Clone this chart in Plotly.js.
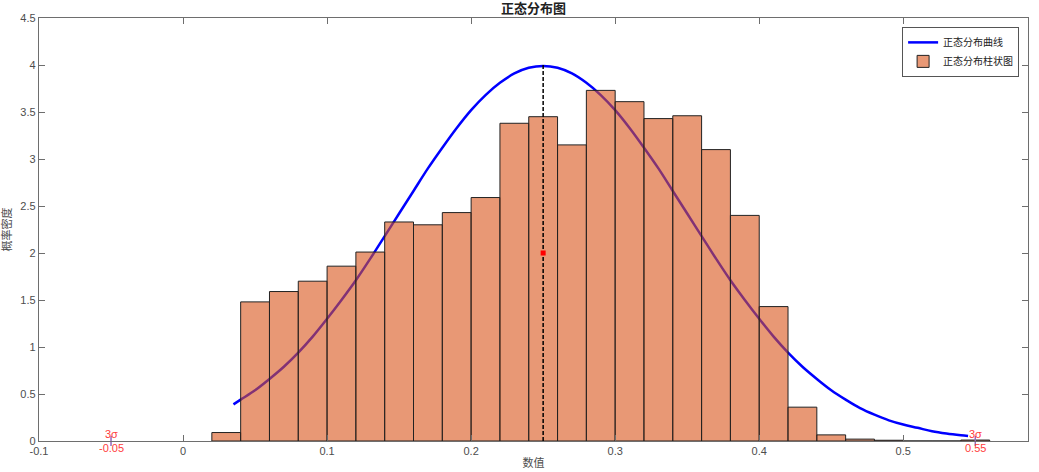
<!DOCTYPE html>
<html>
<head>
<meta charset="utf-8">
<script src="https://cdn.plot.ly/plotly-3.0.1.min.js"></script>
<style>
  html, body { margin: 0; padding: 0; background: #fff; }
  #chart { width: 1039px; height: 472px; }
</style>
</head>
<body>
<div id="chart"></div>
<script>
/* 正态分布图 — histogram (density) with fitted normal curve */

// histogram: bin edges and density per bin
var BIN_EDGES = [0.02, 0.04, 0.06, 0.08, 0.10, 0.12, 0.14, 0.16, 0.18, 0.20, 0.22, 0.24, 0.26, 0.28,
                 0.30, 0.32, 0.34, 0.36, 0.38, 0.40, 0.42, 0.44, 0.46, 0.48, 0.50, 0.52, 0.54, 0.56];
var DENSITY = [0.09, 1.48, 1.59, 1.70, 1.86, 2.01, 2.33, 2.30, 2.43, 2.59, 3.38, 3.45, 3.15,
               3.73, 3.61, 3.43, 3.46, 3.10, 2.40, 1.43, 0.36, 0.065, 0.02, 0.008, 0, 0, 0.01];

// normal curve
var CURVE_X = [0.035, 0.04, 0.05, 0.06, 0.07, 0.08, 0.09, 0.10, 0.11, 0.12, 0.13, 0.14, 0.15,
               0.16, 0.17, 0.18, 0.19, 0.20, 0.21, 0.22, 0.23, 0.24, 0.25, 0.26, 0.27, 0.28,
               0.29, 0.30, 0.31, 0.32, 0.33, 0.34, 0.35, 0.36, 0.37, 0.38, 0.39, 0.40, 0.41,
               0.42, 0.43, 0.44, 0.45, 0.46, 0.47, 0.48, 0.49, 0.50, 0.51, 0.52, 0.53, 0.54, 0.545];
var CURVE_Y = [0.39, 0.44, 0.54, 0.66, 0.79, 0.94, 1.11, 1.30, 1.50, 1.71, 1.94, 2.18, 2.42,
               2.66, 2.90, 3.12, 3.33, 3.52, 3.68, 3.81, 3.91, 3.97, 3.99, 3.97, 3.91, 3.81,
               3.68, 3.52, 3.33, 3.12, 2.90, 2.66, 2.42, 2.18, 1.94, 1.71, 1.50, 1.30, 1.11,
               0.94, 0.79, 0.66, 0.54, 0.44, 0.35, 0.28, 0.22, 0.175, 0.14, 0.104, 0.079, 0.060, 0.052];

// mean line, mid marker and ±3σ labels
var MEAN = 0.25;
var PEAK = 4.0;
var MID_Y = 2.0;
var SIGMA_X = [-0.05, 0.55];
var SIGMA_LABELS = ["-0.05", "0.55"];

// axes
var X_TICKS = [-0.1, 0, 0.1, 0.2, 0.3, 0.4, 0.5];
var X_LABELS = ["-0.1", "0", "0.1", "0.2", "0.3", "0.4", "0.5"];
var Y_TICKS = [0, 0.5, 1, 1.5, 2, 2.5, 3, 3.5, 4, 4.5];
var Y_LABELS = ["0", "0.5", "1", "1.5", "2", "2.5", "3", "3.5", "4", "4.5"];
var X_RANGE = [-0.1, 0.5866];
var Y_RANGE = [0, 4.5];

var FONT = "'Liberation Sans', 'Noto Sans CJK SC', sans-serif";
var AXIS = "#6e6e6e";
var TICKTXT = "#4d4d4d";
var RED = "#ff3c3c";

var centers = [], widths = [];
for (var i = 0; i < DENSITY.length; i++) {
  centers.push((BIN_EDGES[i] + BIN_EDGES[i + 1]) / 2);
  widths.push(BIN_EDGES[i + 1] - BIN_EDGES[i]);
}

var traces = [
  { // curve sits under the bars (main subplot)
    type: "scatter", mode: "lines", name: "正态分布曲线",
    x: CURVE_X, y: CURVE_Y, xaxis: "x", yaxis: "y",
    line: { color: "#0000ff", width: 2.5, shape: "spline", smoothing: 1 }
  },
  { // bars on the overlay subplot so they paint over the curve
    type: "bar", name: "正态分布柱状图",
    x: centers, y: DENSITY, width: widths, xaxis: "x2", yaxis: "y2",
    marker: { color: "rgba(217,83,25,0.6)", line: { color: "#222", width: 1 } }
  },
  { // mean line
    type: "scatter", mode: "lines", showlegend: false,
    x: [MEAN, MEAN], y: [0, PEAK], xaxis: "x2", yaxis: "y2",
    line: { color: "#000", width: 1.5, dash: "4px,2px" }
  },
  { // mid marker
    type: "scatter", mode: "markers", showlegend: false,
    x: [MEAN], y: [MID_Y], xaxis: "x2", yaxis: "y2",
    marker: { color: "red", size: 5, symbol: "square" }
  },
  { // 3σ tick marks on the axis
    type: "scatter", mode: "markers", showlegend: false, cliponaxis: false,
    x: SIGMA_X, y: [0, 0], xaxis: "x2", yaxis: "y2",
    marker: { symbol: "line-ns-open", size: 7, line: { color: RED, width: 1.5 } }
  }
];

var annotations = [];
SIGMA_X.forEach(function (sx, k) {
  annotations.push({ x: sx, y: 0, xref: "x", yref: "y", text: "3σ", showarrow: false,
    yanchor: "bottom", yshift: -1, font: { family: FONT, size: 11, color: RED } });
  annotations.push({ x: sx, y: 0, xref: "x", yref: "y", text: SIGMA_LABELS[k], showarrow: false,
    yanchor: "top", yshift: 1, font: { family: FONT, size: 11, color: RED } });
});

function axisBase(extra) {
  var a = {
    showline: true, linecolor: AXIS, linewidth: 1.2, mirror: "ticks",
    ticks: "inside", ticklen: 6, tickcolor: AXIS, tickwidth: 1,
    showgrid: false, zeroline: false,
    tickfont: { family: FONT, size: 11, color: TICKTXT }
  };
  for (var k in extra) a[k] = extra[k];
  return a;
}

var layout = {
  width: 1039, height: 472,
  paper_bgcolor: "#fff", plot_bgcolor: "#fff",
  margin: { l: 39, r: 11, t: 18, b: 31 },
  font: { family: FONT },
  title: { text: "<b>正态分布图</b>", x: 0.5135, xanchor: "center", y: 0.983, yanchor: "middle",
    font: { family: FONT, size: 13, color: "#222" } },
  xaxis: axisBase({ range: X_RANGE, tickvals: X_TICKS, ticktext: X_LABELS,
    title: { text: "数值", standoff: 2, font: { family: FONT, size: 11, color: TICKTXT } } }),
  yaxis: axisBase({ range: Y_RANGE, tickvals: Y_TICKS, ticktext: Y_LABELS,
    title: { text: "概率密度", standoff: 6, font: { family: FONT, size: 11, color: TICKTXT } } }),
  xaxis2: { overlaying: "x", anchor: "y2", range: X_RANGE, visible: false },
  yaxis2: { overlaying: "y", anchor: "x2", range: Y_RANGE, visible: false },
  showlegend: true,
  legend: { x: 0.991, y: 0.979, xanchor: "right", yanchor: "top",
    bgcolor: "#fff", bordercolor: "#555", borderwidth: 1,
    font: { family: FONT, size: 10, color: "#222" },
    itemwidth: 30, tracegroupgap: 0 },
  bargap: 0,
  annotations: annotations
};

Plotly.newPlot("chart", traces, layout, { displayModeBar: false, staticPlot: true });
</script>
</body>
</html>
